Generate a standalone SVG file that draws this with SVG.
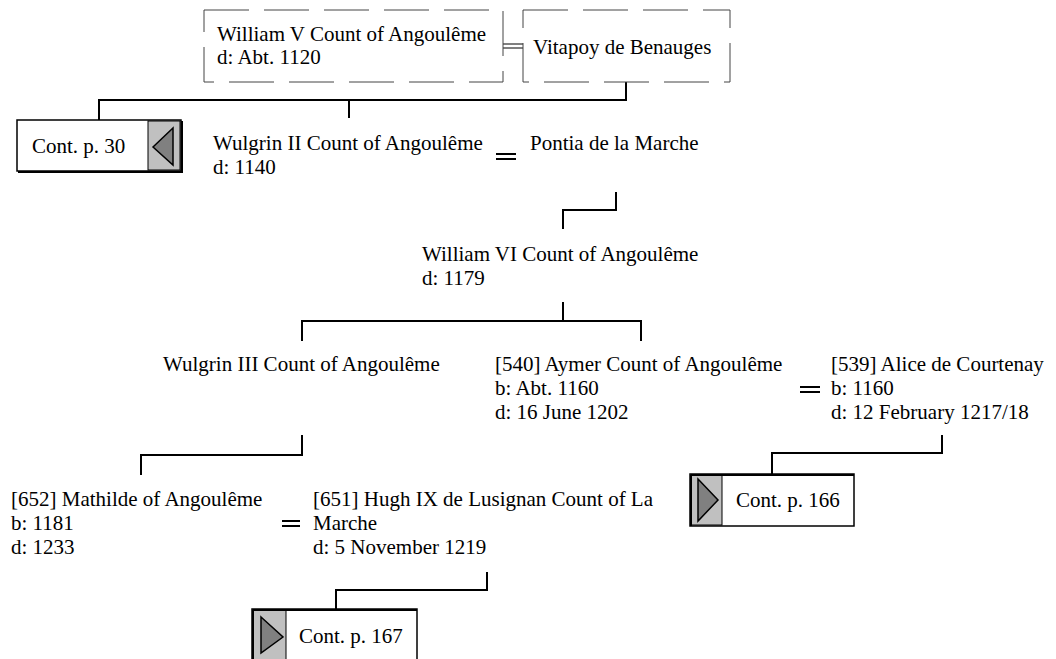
<svg xmlns="http://www.w3.org/2000/svg" width="1056" height="659" viewBox="0 0 1056 659">
<style>
text{font-family:"Liberation Serif","Times New Roman",serif;font-size:21px;fill:#000}
.dash{fill:#fff;stroke:#444;stroke-width:1;stroke-dasharray:45 15}
.ln{fill:none;stroke:#000;stroke-width:2}
.eq{fill:none;stroke:#000;stroke-width:2}
.cbox{fill:#fff;stroke:#000;stroke-width:1.5}
.gray{fill:#c0c0c0;stroke:#000;stroke-width:1}
.tri{fill:#808080;stroke:#000;stroke-width:1.5}
.shadow{fill:none;stroke:#000;stroke-width:2}
</style>
<rect width="1056" height="659" fill="#fff"/>
<g id="connectors">
  <path class="ln" d="M626 82V100H99V120M349 100V118"/>
  <path class="ln" d="M616 192V210H563V229"/>
  <path class="ln" d="M302 341V321H641V341M563 302V321"/>
  <path class="ln" d="M942 435V453H772V474"/>
  <path class="ln" d="M302 435V455H141V475"/>
  <path class="ln" d="M487 572V590H336V609"/>
  <path fill="none" stroke="#000" stroke-width="1" d="M503 44H523M503 48H523"/>
  <path class="eq" d="M496 154H516M496 159H516"/>
  <path class="eq" d="M800 387H820M800 392H820"/>
  <path class="eq" d="M282 521H300M282 526H300"/>
</g>
<g id="n-william5">
  <rect class="dash" x="204" y="10" width="299" height="72"/>
  <text x="217" y="41">William V Count of Angoulême</text>
  <text x="217" y="64">d: Abt. 1120</text>
</g>
<g id="n-vitapoy">
  <rect class="dash" x="523" y="10" width="207" height="72"/>
  <text x="533" y="54">Vitapoy de Benauges</text>
</g>
<g id="n-cont30">
  <rect class="cbox" x="17" y="120" width="164" height="51"/>
  <rect class="gray" x="148" y="121" width="32" height="49"/>
  <polygon class="tri" points="153,147 173,128 173,165"/>
  <path class="shadow" d="M182 121V172H18"/>
  <text x="32" y="153">Cont. p. 30</text>
</g>
<g id="n-wulgrin2">
  <text x="213" y="150">Wulgrin II Count of Angoulême</text>
  <text x="213" y="174">d: 1140</text>
</g>
<g id="n-pontia">
  <text x="530" y="150">Pontia de la Marche</text>
</g>
<g id="n-william6">
  <text x="422" y="261">William VI Count of Angoulême</text>
  <text x="422" y="285">d: 1179</text>
</g>
<g id="n-wulgrin3">
  <text x="163" y="371">Wulgrin III Count of Angoulême</text>
</g>
<g id="n-aymer">
  <text x="495" y="371">[540] Aymer Count of Angoulême</text>
  <text x="495" y="395">b: Abt. 1160</text>
  <text x="495" y="419">d: 16 June 1202</text>
</g>
<g id="n-alice">
  <text x="831" y="371">[539] Alice de Courtenay</text>
  <text x="831" y="395">b: 1160</text>
  <text x="831" y="419">d: 12 February 1217/18</text>
</g>
<g id="n-cont166">
  <rect class="cbox" x="690" y="474" width="164" height="52"/>
  <rect class="gray" x="691" y="475" width="31" height="50"/>
  <polygon class="tri" points="698,479 718,500 698,521"/>
  <path class="shadow" d="M691 475V526M691 475H854"/>
  <text x="736" y="507">Cont. p. 166</text>
</g>
<g id="n-mathilde">
  <text x="11" y="506">[652] Mathilde of Angoulême</text>
  <text x="11" y="530">b: 1181</text>
  <text x="11" y="554">d: 1233</text>
</g>
<g id="n-hugh">
  <text x="313" y="506">[651] Hugh IX de Lusignan Count of La</text>
  <text x="313" y="530">Marche</text>
  <text x="313" y="554">d: 5 November 1219</text>
</g>
<g id="n-cont167">
  <rect class="cbox" x="252" y="609" width="165" height="60"/>
  <rect class="gray" x="253" y="610" width="33" height="59"/>
  <polygon class="tri" points="261,617 283,637 261,653"/>
  <path class="shadow" d="M253 610V670M253 610H417"/>
  <text x="299" y="643">Cont. p. 167</text>
</g>
</svg>
